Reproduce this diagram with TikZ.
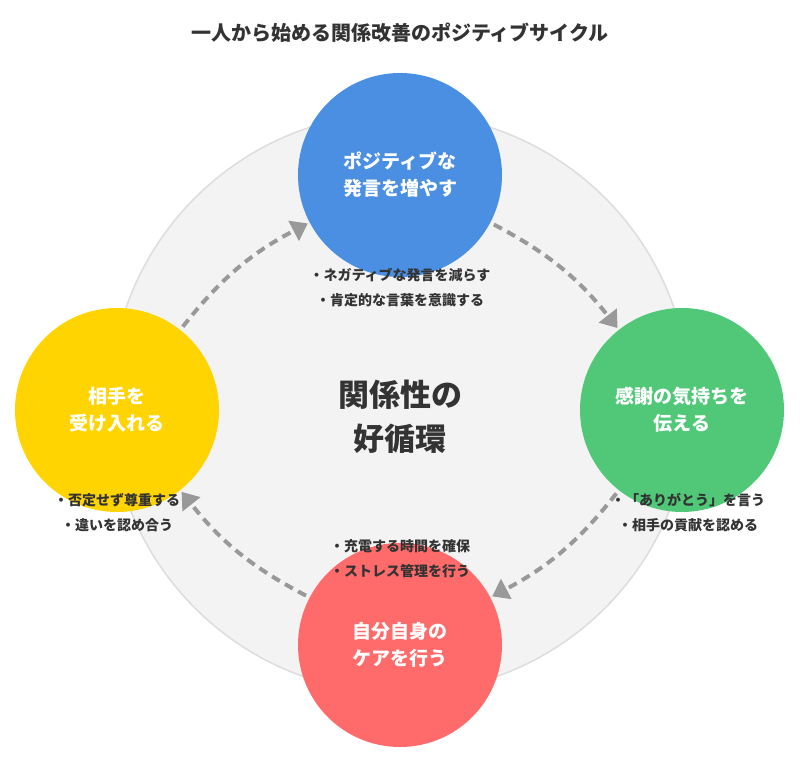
\documentclass[tikz,border=0pt]{standalone}
\usepackage{fontspec}
\setmainfont{Noto Sans CJK JP}
\usetikzlibrary{arrows.meta}
\definecolor{cblue}{HTML}{4A8FE2}
\definecolor{cgreen}{HTML}{50C878}
\definecolor{cred}{HTML}{FF6B6B}
\definecolor{cyellow}{HTML}{FFD400}
\definecolor{cring}{HTML}{F3F3F3}
\definecolor{cedge}{HTML}{DDDDDD}
\definecolor{carrow}{HTML}{999999}
\definecolor{ctext}{HTML}{333333}
\begin{document}
\begin{tikzpicture}[x=1pt,y=-1pt,
    stage/.style={circle,minimum size=204pt,inner sep=0pt,text=white,
      font=\fontsize{19}{27}\selectfont\bfseries,align=center},
    note/.style={text=ctext,font=\fontsize{14}{25}\selectfont\bfseries,align=center},
    flow/.style={carrow,line width=4pt,dash pattern=on 9pt off 6pt,
      -{Triangle[length=16pt,width=22pt]},shorten <=4pt,shorten >=2pt}]
    \useasboundingbox (0,0) rectangle (800,767);

    \node[text=ctext,font=\fontsize{20}{24}\selectfont\bfseries] (title) at (400,33) {一人から始める関係改善のポジティブサイクル};
    \node[circle,fill=cring,draw=cedge,line width=1.5pt,minimum size=580pt] (ring) at (400,403) {};
    \node[text=ctext,font=\fontsize{31}{44}\selectfont\bfseries,align=center] (core) at (400,417) {関係性の\\好循環};

    \node[stage,fill=cblue] (pos) at (400,175) {ポジティブな\\発言を増やす};
    \node[stage,fill=cgreen] (thx) at (682,410) {感謝の気持ちを\\伝える};
    \node[stage,fill=cred] (care) at (400,645) {自分自身の\\ケアを行う};
    \node[stage,fill=cyellow] (acc) at (117,410) {相手を\\受け入れる};

    \node[note] (posnote) at (400,288) {・ネガティブな発言を減らす\\・肯定的な言葉を意識する};
    \node[note] (thxnote) at (688,513) {・「ありがとう」を言う\\・相手の貢献を認める};
    \node[note] (carenote) at (400,559) {・充電する時間を確保\\・ストレス管理を行う};
    \node[note] (accnote) at (117,513) {・否定せず尊重する\\・違いを認め合う};

    \draw[flow] (pos) to[bend left=12] (thx);
    \draw[flow] (thx) to[bend left=12] (care);
    \draw[flow] (care) to[bend left=12] (acc);
    \draw[flow] (acc) to[bend left=12] (pos);
\end{tikzpicture}
\end{document}
